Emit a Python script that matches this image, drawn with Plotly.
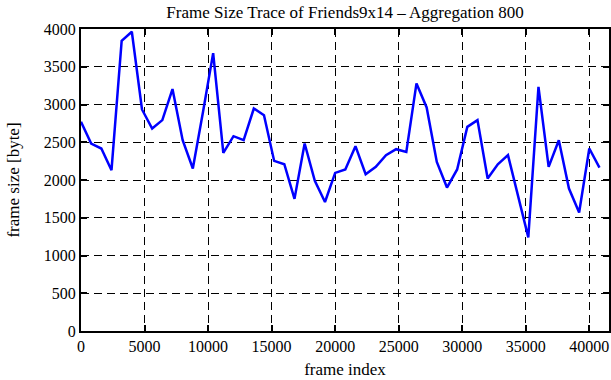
import plotly.graph_objects as go

frame_index = [i * 800 for i in range(52)]
frame_size = [2770, 2483, 2417, 2130, 3844, 3964, 2934, 2682, 2793, 3204,
              2527, 2152, 2900, 3680, 2359, 2580, 2527, 2947, 2859, 2253,
              2209, 1750, 2483, 1988, 1709, 2094, 2139, 2448, 2077, 2174,
              2329, 2408, 2372, 3279, 2961, 2240, 1900, 2140, 2704, 2793,
              2019, 2209, 2329, 1780, 1240, 3234, 2174, 2527, 1887, 1570,
              2417, 2165]
x_ticks = [0, 5000, 10000, 15000, 20000, 25000, 30000, 35000, 40000]
y_ticks = [0, 500, 1000, 1500, 2000, 2500, 3000, 3500, 4000]

FAM = "Liberation Serif"
tick_font = dict(family=FAM, size=16, color="black")
label_font = dict(family=FAM, size=17, color="black")

fig = go.Figure()
fig.add_trace(go.Scatter(x=frame_index, y=frame_size, mode="lines",
                         line=dict(color="#0000ff", width=2.5), showlegend=False))

axis_common = dict(showline=True, linewidth=2, linecolor="black", mirror="allticks",
                   ticks="inside", ticklen=6, tickwidth=1.5, tickcolor="black",
                   showgrid=True, gridcolor="black", gridwidth=1, griddash="8px,5px",
                   zeroline=False, tickfont=tick_font, automargin=False)

fig.update_xaxes(range=[0, 41550], tickvals=x_ticks, ticktext=[str(v) for v in x_ticks],
                 title=dict(text="frame index", font=label_font, standoff=9), **axis_common)
fig.update_yaxes(range=[0, 4000], tickvals=y_ticks, ticktext=[str(v) for v in y_ticks],
                 title=dict(text="frame size [byte]", font=label_font, standoff=20), **axis_common)

fig.update_layout(
    width=611, height=380,
    margin=dict(l=81, r=2, t=29, b=49),
    plot_bgcolor="white", paper_bgcolor="white",
    title=dict(text="Frame Size Trace of Friends9x14 \u2013 Aggregation 800",
               font=dict(family=FAM, size=17, color="black"),
               x=0.5648, xanchor="center", y=0.985, yanchor="top"),
    font=tick_font,
)

fig.write_html("out.html", config={"displayModeBar": False},
               post_script="document.body.style.margin='0';document.body.style.padding='0';")
